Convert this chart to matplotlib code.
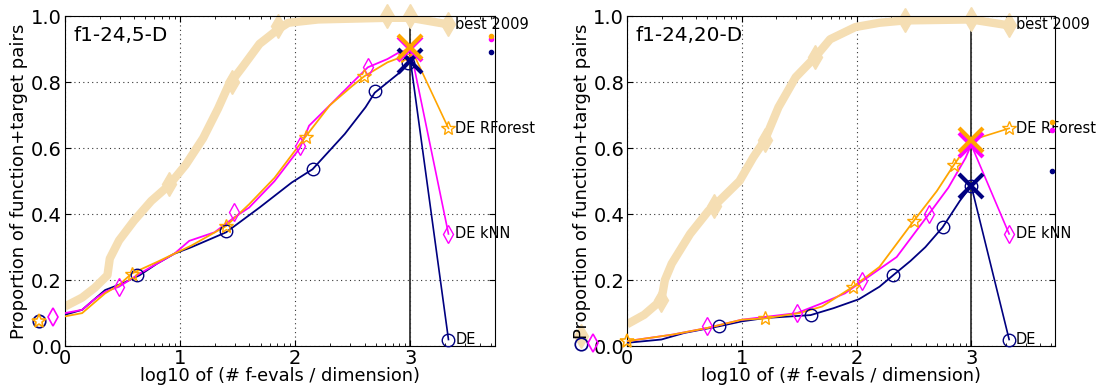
import numpy as np
import matplotlib

matplotlib.use("Agg")
import matplotlib.pyplot as plt
from matplotlib.ticker import FixedLocator, MultipleLocator

NAVY = "#000080"
MAGENTA = "#ff00ff"
ORANGE = "#ffa500"
WHEAT = "#f5deb3"

# ---------------- 5-D panel ----------------
best5_x = [0.0, 0.15, 0.26, 0.37, 0.39, 0.47, 0.6, 0.75, 0.9, 1.05, 1.2, 1.33, 1.42, 1.54,
           1.69, 1.85, 1.94, 2.2, 2.8, 3.0, 3.33]
best5_y = [0.12, 0.147, 0.177, 0.215, 0.265, 0.32, 0.38, 0.44, 0.486, 0.55, 0.63, 0.72, 0.79,
           0.845, 0.916, 0.96, 0.98, 0.99, 0.995, 0.995, 0.975]
best5_mx = [0.9, 1.45, 1.85, 2.8, 3.0, 3.33]
best5_my = [0.49, 0.8, 0.97, 1.0, 1.0, 0.975]

de5_x = [-0.1, 0.0, 0.15, 0.25, 0.35, 0.5, 0.65, 0.8, 0.95, 1.1, 1.4, 1.69, 1.97, 2.15, 2.43,
         2.61, 2.69, 2.91, 2.98, 3.0]
de5_y = [0.095, 0.095, 0.11, 0.14, 0.17, 0.19, 0.215, 0.25, 0.28, 0.30, 0.345, 0.42, 0.496,
         0.536, 0.643, 0.724, 0.768, 0.83, 0.857, 0.865]
de5_mx = [0.63, 1.40, 2.15, 2.69, 2.98]
de5_my = [0.215, 0.35, 0.536, 0.772, 0.857]

knn5_x = [-0.1, 0.0, 0.15, 0.25, 0.35, 0.47, 0.65, 0.8, 0.95, 1.08, 1.3, 1.47, 1.6, 1.82,
          2.04, 2.12, 2.3, 2.5, 2.63, 2.8, 2.9, 3.0]
knn5_y = [0.1, 0.1, 0.11, 0.14, 0.165, 0.18, 0.22, 0.25, 0.28, 0.319, 0.345, 0.39, 0.42,
          0.50, 0.60, 0.668, 0.73, 0.80, 0.845, 0.87, 0.89, 0.9]
knn5_mx = [0.47, 1.47, 2.04, 2.63]
knn5_my = [0.178, 0.405, 0.605, 0.845]

rf5_x = [-0.1, 0.0, 0.15, 0.25, 0.35, 0.47, 0.58, 0.8, 0.95, 1.1, 1.4, 1.6, 1.82, 2.09, 2.3,
         2.5, 2.6, 2.8, 2.95, 3.0]
rf5_y = [0.09, 0.09, 0.1, 0.13, 0.16, 0.185, 0.22, 0.255, 0.28, 0.305, 0.364, 0.43, 0.51,
         0.635, 0.73, 0.79, 0.818, 0.86, 0.88, 0.9]
rf5_mx = [0.58, 1.40, 2.09, 2.6, 2.95]
rf5_my = [0.22, 0.364, 0.635, 0.818, 0.88]

# ---------------- 20-D panel ----------------
best20_x = [0.0, 0.15, 0.30, 0.33, 0.39, 0.55, 0.71, 0.76, 0.98, 1.1, 1.2, 1.32, 1.47, 1.64,
            1.77, 1.99, 2.2, 2.42, 3.0, 3.33]
best20_y = [0.066, 0.095, 0.14, 0.2, 0.25, 0.34, 0.41, 0.425, 0.50, 0.572, 0.624, 0.724, 0.815,
            0.876, 0.93, 0.967, 0.98, 0.987, 0.99, 0.972]
best20_mx = [0.3, 0.76, 1.2, 1.64, 2.42, 3.0, 3.33]
best20_my = [0.14, 0.425, 0.624, 0.876, 0.987, 0.99, 0.972]

de20_x = [0.0, 0.3, 0.5, 0.8, 1.0, 1.2, 1.6, 1.8, 2.02, 2.2, 2.32, 2.47, 2.6, 2.75, 2.9, 3.0]
de20_y = [0.01, 0.02, 0.04, 0.06, 0.075, 0.085, 0.094, 0.115, 0.142, 0.18, 0.215, 0.258, 0.3,
          0.36, 0.44, 0.486]
de20_mx = [0.8, 1.6, 2.32, 2.75, 3.0]
de20_my = [0.06, 0.094, 0.215, 0.36, 0.486]

knn20_x = [0.0, 0.4, 0.7, 1.0, 1.48, 1.7, 1.9, 2.05, 2.35, 2.63, 2.8, 2.95, 3.0]
knn20_y = [0.015, 0.035, 0.055, 0.08, 0.1, 0.13, 0.16, 0.197, 0.27, 0.40, 0.48, 0.57, 0.61]
knn20_mx = [0.7, 1.48, 2.05, 2.63]
knn20_my = [0.06, 0.1, 0.197, 0.40]

rf20_x = [0.0, 0.4, 0.7, 1.0, 1.2, 1.5, 1.7, 1.97, 2.2, 2.5, 2.7, 2.85, 3.0]
rf20_y = [0.015, 0.035, 0.055, 0.08, 0.084, 0.1, 0.12, 0.18, 0.24, 0.38, 0.47, 0.55, 0.624]
rf20_mx = [1.2, 1.97, 2.5, 2.85]
rf20_my = [0.084, 0.18, 0.38, 0.55]

panels = [
    {
        "title": "f1-24,5-D",
        "best": (best5_x, best5_y, best5_mx, best5_my),
        "algs": [
            # name, color, marker, line x/y, marker x/y, X at 3, label y, outside marker, edge dot
            ("DE", NAVY, "o", de5_x, de5_y, de5_mx, de5_my, 0.865, 0.02, (-0.22, 0.075), 0.89),
            ("DE kNN", MAGENTA, "d", knn5_x, knn5_y, knn5_mx, knn5_my, 0.9, 0.34, (-0.1, 0.088), 0.93),
            ("DE RForest", ORANGE, "*", rf5_x, rf5_y, rf5_mx, rf5_my, 0.906, 0.66, (-0.22, 0.075), 0.94),
        ],
        "best_out": None,
    },
    {
        "title": "f1-24,20-D",
        "best": (best20_x, best20_y, best20_mx, best20_my),
        "algs": [
            ("DE", NAVY, "o", de20_x, de20_y, de20_mx, de20_my, 0.486, 0.02, (-0.40, 0.006), 0.53),
            ("DE kNN", MAGENTA, "d", knn20_x, knn20_y, knn20_mx, knn20_my, 0.61, 0.34, (-0.30, 0.01), 0.655),
            ("DE RForest", ORANGE, "*", rf20_x, rf20_y, rf20_mx, rf20_my, 0.624, 0.66, (0.0, 0.015), 0.68),
        ],
        "best_out": (-0.405, 0.03),
    },
]

fig = plt.figure(figsize=(10.99, 3.85), dpi=100)
boxes = [[0.059, 0.101, 0.391, 0.857], [0.5705, 0.101, 0.3895, 0.857]]

minor = [np.log10(k * 10 ** n) for n in range(0, 4) for k in range(2, 10)]

for box, p in zip(boxes, panels):
    ax = fig.add_axes(box)
    bx, by, bmx, bmy = p["best"]
    ax.plot(bx, by, color=WHEAT, lw=6, solid_capstyle="butt", zorder=2)
    ax.plot(bmx, bmy, ls="none", marker="d", ms=12, color=WHEAT, zorder=2, clip_on=False)
    if p["best_out"] is not None:
        ax.plot(*p["best_out"], marker="d", ms=12, color=WHEAT, clip_on=False, zorder=1)
    ax.text(3.39, 0.975, "best 2009", fontsize=10.5, va="center", ha="left")

    for name, c, m, lx, ly, mx, my, xend, laby, out, dot in p["algs"]:
        ms = 9 if m != "*" else 10
        ax.plot(lx, ly, color=c, lw=1.3, zorder=3)
        ax.plot(mx, my, ls="none", marker=m, ms=ms, mfc="none", mec=c, mew=1, zorder=4)
        ax.plot([3.0, 3.33], [xend, laby], color=c, lw=1.2, zorder=3)
        ax.plot(3.33, laby, marker=m, ms=ms, mfc="none", mec=c, mew=1, zorder=4, clip_on=False)
        ax.plot(3.0, xend, marker="x", ms=17, mec=c, mew=3, zorder=5)
        ax.plot(*out, marker=m, ms=ms, mfc="none", mec=c, mew=1.2, clip_on=False, zorder=4)
        ax.plot(3.70, dot, marker="o", ms=3, color=c, clip_on=False, zorder=4)
        ax.text(3.39, laby, name, fontsize=10.5, va="center", ha="left")

    ax.axvline(3.0, color="#222222", lw=1.2, zorder=1)
    ax.set_xlim(0, 3.73)
    ax.set_ylim(0, 1.0)
    ax.xaxis.set_major_locator(MultipleLocator(1))
    ax.xaxis.set_minor_locator(FixedLocator(minor))
    ax.yaxis.set_major_locator(MultipleLocator(0.2))
    ax.set_yticklabels([f"{v:.1f}" for v in ax.get_yticks()])
    ax.tick_params(which="both", direction="in", top=True, right=True, labelsize=14, pad=2)
    ax.tick_params(which="major", length=4)
    ax.tick_params(which="minor", length=2)
    ax.grid(True, which="major", color="#333333", ls=(0, (1, 3)), lw=0.8)
    ax.set_xlabel("log10 of (# f-evals / dimension)", fontsize=12.8, labelpad=-1)
    ax.set_ylabel("Proportion of function+target pairs", fontsize=13, labelpad=2)
    ax.text(0.02, 0.97, p["title"], transform=ax.transAxes, fontsize=14.4, va="top", ha="left")

fig.savefig("out.png", dpi=100)
